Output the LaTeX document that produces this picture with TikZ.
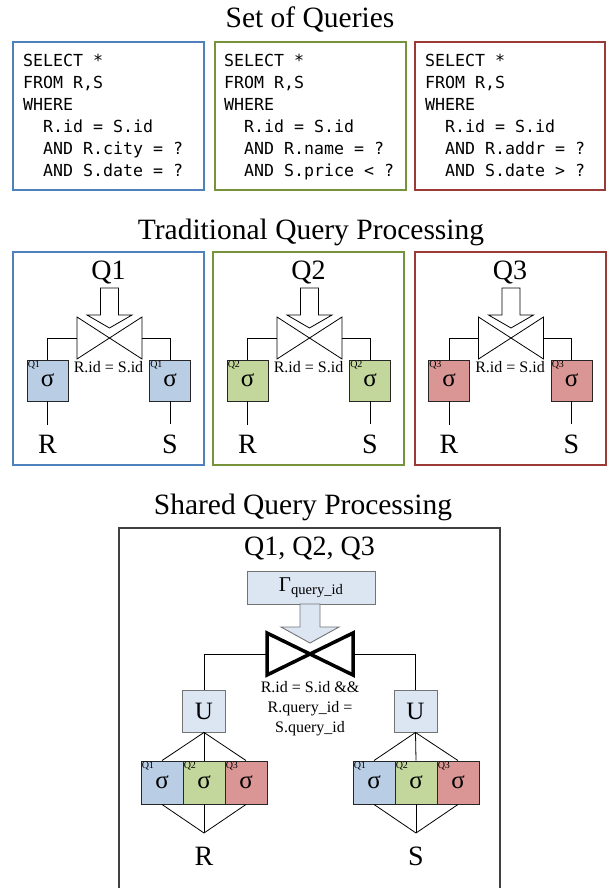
\documentclass[tikz,border=0pt]{standalone}
\usepackage{fontspec}
\setmainfont{Liberation Serif}
\newfontfamily\codefont{DejaVu Sans Mono}
\definecolor{qblue}{HTML}{4F81BD}
\definecolor{qgreen}{HTML}{77933C}
\definecolor{qred}{HTML}{9B3B37}
\definecolor{fblue}{HTML}{B9CDE5}
\definecolor{fgreen}{HTML}{C3D69B}
\definecolor{fred}{HTML}{D99694}
\definecolor{flight}{HTML}{DCE6F2}
\tikzset{
  title/.style={font=\fontsize{29.5}{30}\selectfont, inner sep=0},
  biglab/.style={font=\fontsize{28}{30}\selectfont, inner sep=0},
  code/.style={font=\codefont\fontsize{16.6}{22}\selectfont, align=left, anchor=north west, inner sep=0},
  frame/.style={line width=2pt},
  sigbox/.style={draw=black!85, line width=0.9pt, minimum width=41, minimum height=41, inner sep=0, font=\fontsize{25}{25}\selectfont},
  sigboxb/.style={draw=black!85, line width=0.9pt, minimum width=42, minimum height=43, inner sep=0, font=\fontsize{25}{25}\selectfont},
  small/.style={font=\fontsize{10}{10}\selectfont, inner sep=1pt, anchor=north west},
  joinlab/.style={font=\fontsize{16}{20}\selectfont, inner sep=0, align=center},
  conn/.style={line width=0.8pt},
  lightbox/.style={draw=black!55, line width=0.9pt, fill=flight, inner sep=0},
}
\begin{document}
\begin{tikzpicture}[x=1pt,y=-1pt]
\useasboundingbox (0,0) rectangle (606,888);
% ---------- Set of queries ----------
\node[title] (t1) at (310,20) {Set of Queries};
\draw[frame, qblue] (13,42) rectangle (204,190);
\draw[frame, qgreen] (215,42) rectangle (406,190);
\draw[frame, qred] (415,42) rectangle (605,190);
\node[code] (c1) at (23,54) {SELECT *\\FROM R,S\\WHERE\\\hspace*{20pt}R.id = S.id\\\hspace*{20pt}AND R.city = ?\\\hspace*{20pt}AND S.date = ?};
\node[code] (c2) at (224,54) {SELECT *\\FROM R,S\\WHERE\\\hspace*{20pt}R.id = S.id\\\hspace*{20pt}AND R.name = ?\\\hspace*{20pt}AND S.price < ?};
\node[code] (c3) at (425,54) {SELECT *\\FROM R,S\\WHERE\\\hspace*{20pt}R.id = S.id\\\hspace*{20pt}AND R.addr = ?\\\hspace*{20pt}AND S.date > ?};
% ---------- Traditional ----------
\node[title] (t2) at (311,232) {Traditional Query Processing};
\foreach \d/\c/\f/\n in {0/qblue/fblue/1, 200/qgreen/fgreen/2, 401.5/qred/fred/3}{
  \draw[frame, \c] ({13+\d},252) rectangle ({204+\d},465);
  \node[biglab] (ql\n) at ({108.5+\d},272) {Q\n};
  \draw[conn] ({77+\d},317) -- ({142+\d},359) -- ({142+\d},317) -- ({77+\d},359) -- cycle;
  \draw[conn, fill=white] ({100.5+\d},288) -- ({118.5+\d},288) -- ({118.5+\d},315) -- ({132+\d},315) -- ({109.5+\d},328) -- ({87+\d},315) -- ({100.5+\d},315) -- cycle;
  \coordinate (jl\n) at ({77+\d},338);
  \coordinate (jr\n) at ({142+\d},338);
  \node[sigbox, fill=\f] (sl\n) at ({47.5+\d},380.5) {σ};
  \node[sigbox, fill=\f] (sr\n) at ({170+\d},380.5) {σ};
  \node[small] (qsl\n) at (sl\n.north west) {Q\n};
  \node[small] (qsr\n) at (sr\n.north west) {Q\n};
  \node[joinlab] (jt\n) at ({108.5+\d},367) {R.id = S.id};
  \draw[conn] (jl\n) -| (sl\n.north);
  \draw[conn] (jr\n) -| (sr\n.north);
  \node[biglab] (r\n) at ({47.5+\d},444) {R};
  \node[biglab] (s\n) at ({170+\d},444) {S};
  \draw[conn, shorten >=10pt] (sl\n.south) -- (r\n.north);
  \draw[conn, shorten >=10pt] (sr\n.south) -- (s\n.north);
}
% ---------- Shared ----------
\node[title] (t3) at (303,507) {Shared Query Processing};
\draw[line width=1.4pt, black!75] (119,895) -- (119,528) -- (500,528) -- (500,895);
\node[biglab] (qall) at (309.5,548) {Q1, Q2, Q3};
\node[lightbox, minimum width=128, minimum height=33] (gam) at (311,587.5) {\fontsize{21}{21}\selectfont Γ\raisebox{-3pt}{\fontsize{14.6}{15}\selectfont query\_id}};
\draw[line width=3.5pt, line join=miter] (267,633) -- (353,675) -- (353,633) -- (267,675) -- cycle;
\draw[lightbox] (300,604) -- (320,604) -- (320,627) -- (339,627) -- (310,643) -- (281,627) -- (300,627) -- cycle;
\coordinate (jl) at (267,654);
\coordinate (jr) at (353,654);
\node[lightbox, minimum width=43, minimum height=42, font=\fontsize{25}{25}\selectfont] (ul) at (204,711) {U};
\node[lightbox, minimum width=43, minimum height=42, font=\fontsize{25}{25}\selectfont] (ur) at (415.5,711) {U};
\draw[conn] (jl) -| (ul.north);
\draw[conn] (jr) -| (ur.north);
\node[joinlab] (jt) at (310,709) {R.id = S.id \&\&\\R.query\_id =\\S.query\_id};
\node[sigboxb, fill=fblue] (a1) at (162,782.5) {σ};
\node[sigboxb, fill=fgreen] (a2) at (204,782.5) {σ};
\node[sigboxb, fill=fred] (a3) at (246,782.5) {σ};
\node[sigboxb, fill=fblue] (b1) at (374,782.5) {σ};
\node[sigboxb, fill=fgreen] (b2) at (416,782.5) {σ};
\node[sigboxb, fill=fred] (b3) at (458,782.5) {σ};
\foreach \n in {1,2,3}{
  \node[small] (qa\n) at (a\n.north west) {Q\n};
  \node[small] (qb\n) at (b\n.north west) {Q\n};
}
\coordinate (rb) at (204,833);
\coordinate (sb) at (416,833);
\foreach \n in {1,2,3}{
  \draw[conn] (ul.south) -- (a\n.north);
  \draw[conn] (ur.south) -- (b\n.north);
  \draw[conn] (a\n.south) -- (rb);
  \draw[conn] (b\n.south) -- (sb);
}
\node[biglab] (rr) at (204,856) {R};
\node[biglab] (ss) at (416,856) {S};
\end{tikzpicture}
\end{document}
